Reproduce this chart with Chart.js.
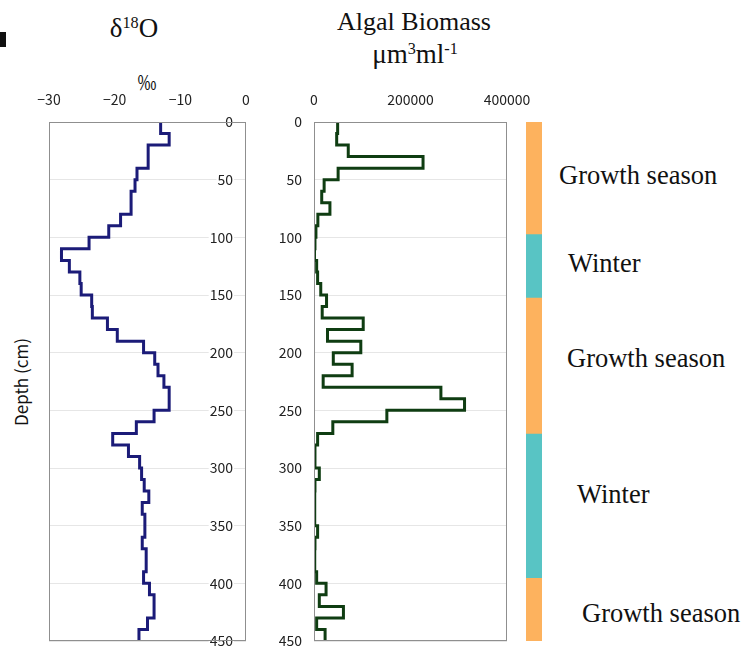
<!DOCTYPE html>
<html lang="en">
<head>
<meta charset="UTF-8">
<title>Depth profiles - δ18O and Algal Biomass</title>
<script src="https://cdn.jsdelivr.net/npm/chart.js"></script>
<style>
  body { margin: 0; background: #fff; }
  #page { position: relative; width: 743px; height: 648px; overflow: hidden; font-family: 'Liberation Serif', serif; color: #111; }
  .panel { position: absolute; top: 0; }
  .lbl { position: absolute; white-space: nowrap; transform: translate(-50%, -50%); line-height: 1; }
  .season { position: absolute; white-space: nowrap; transform: translateY(-50%); font-size: 26.5px; line-height: 1; }
  sup { font-size: 0.6em; vertical-align: 0.55em; line-height: 0; }
  .jp { font-family: 'Noto Sans CJK JP', sans-serif; }
  #mark { position: absolute; left: 0; top: 32px; width: 6px; height: 15px; background: #111; }
</style>
</head>
<body>
<div id="page">
  <div id="mark"></div>
  <div class="lbl" style="left:134px; top:28px; font-size:27px;">δ<sup>18</sup>O</div>
  <div class="lbl jp" style="left:147px; top:81px; font-size:19px;">‰</div>
  <div class="lbl" style="left:414px; top:22px; font-size:26px;">Algal Biomass</div>
  <div class="lbl" style="left:415px; top:54px; font-size:27px;">μm<sup>3</sup>ml<sup>-1</sup></div>
  <div class="lbl jp" style="left:20px; top:382px; font-size:17px; transform: translate(-50%, -50%) rotate(-90deg);">Depth (cm)</div>

  <div class="panel" style="left:0;"><canvas id="isoChart" width="270" height="648"></canvas></div>
  <div class="panel" style="left:260px;"><canvas id="algaeChart" width="290" height="648"></canvas></div>
  <div class="panel" style="left:520px;"><canvas id="seasonChart" width="30" height="648"></canvas></div>

  <div class="season" style="left:559px; top:175px;">Growth season</div>
  <div class="season" style="left:568px; top:263px;">Winter</div>
  <div class="season" style="left:567px; top:358px;">Growth season</div>
  <div class="season" style="left:577px; top:494px;">Winter</div>
  <div class="season" style="left:582px; top:613px;">Growth season</div>
</div>

<script>
  // top of each 10 cm sample (cm)
  const depths = [0, 10, 20, 30, 40, 50, 60, 70, 80, 90,
    100, 110, 120, 130, 140, 150, 160, 170, 180, 190,
    200, 210, 220, 230, 240, 250, 260, 270, 280, 290,
    300, 310, 320, 330, 340, 350, 360, 370, 380, 390,
    400, 410, 420, 430, 440];
  const depthMax = 450;

  // δ18O (‰)
  const d18O = [-13.0, -11.7, -14.9, -14.9, -16.6, -16.9, -17.5, -17.5, -19.1, -20.9,
    -23.9, -28.1, -26.9, -25.3, -25.1, -23.5, -23.4, -21.1, -19.6, -15.6,
    -13.9, -13.4, -12.5, -11.7, -11.7, -14.0, -16.7, -20.3, -17.9, -16.2,
    -15.9, -15.5, -14.8, -15.8, -15.4, -15.4, -15.8, -15.2, -15.2, -15.6,
    -14.7, -14.0, -14.0, -15.0, -16.3];

  // algal biomass (µm3 ml-1)
  const biomass = [49000, 47000, 71000, 226000, 50000, 21000, 16000, 33000, 8000, 4000,
    2000, 1000, 5500, 7500, 14000, 26000, 17000, 102000, 28000, 97000,
    40000, 79000, 19000, 263000, 312000, 151000, 39000, 7500, 2000, 2000,
    11000, 2000, 1500, 1500, 1500, 7500, 2000, 1500, 1500, 5500,
    25000, 11000, 61000, 5500, 23000];

  const isoTicks = [-30, -20, -10, 0];
  const algaeTicks = [0, 200000, 400000];
  const depthTicks = [0, 50, 100, 150, 200, 250, 300, 350, 400, 450];

  const seasonNames = ['Growth season', 'Winter', 'Growth season', 'Winter', 'Growth season'];
  const seasonTop = [0, 97, 152, 270, 395];
  const seasonBottom = [97, 152, 270, 395, 450];

  const ORANGE = '#fdb25e';
  const TEAL = '#58c4c4';
  const tickFont = { family: "'Noto Sans CJK JP', sans-serif", size: 14 };

  // stepped profile: value holds from a sample's top depth down to the next one
  function profile(values) {
    const pts = depths.map((d, i) => ({ x: values[i], y: d }));
    pts.push({ x: values[values.length - 1], y: depthMax });
    return pts;
  }

  const frame = {
    id: 'frame',
    afterDraw(chart) {
      const { ctx, chartArea: a } = chart;
      ctx.save();
      ctx.strokeStyle = '#8f8f8f';
      ctx.lineWidth = 1;
      ctx.strokeRect(Math.round(a.left) + 0.5, Math.round(a.top) + 0.5,
        Math.round(a.right - a.left) - 1, Math.round(a.bottom - a.top) - 1);
      ctx.restore();
    }
  };

  function profileChart(id, values, color, xr, yAxis, pad) {
    return new Chart(document.getElementById(id), {
      type: 'line',
      data: {
        datasets: [{
          data: profile(values),
          borderColor: color,
          borderWidth: 3,
          pointRadius: 0,
          stepped: 'after',
          fill: false
        }]
      },
      options: {
        responsive: false,
        animation: false,
        parsing: false,
        layout: { padding: pad },
        plugins: { legend: { display: false }, tooltip: { enabled: false } },
        scales: {
          x: {
            type: 'linear',
            position: 'top',
            min: xr.min, max: xr.max,
            afterBuildTicks: s => { s.ticks = xr.ticks.map(v => ({ value: v })); },
            afterFit: s => { s.height = 122; s.paddingLeft = 0; s.paddingRight = 0; },
            grid: { display: false, drawTicks: false },
            border: { display: false },
            ticks: {
              font: tickFont, color: '#222', padding: 14, maxRotation: 0,
              callback: v => String(v).replace('-', '−')
            }
          },
          y: Object.assign({
            type: 'linear',
            min: 0, max: depthMax,
            reverse: true,
            afterBuildTicks: s => { s.ticks = depthTicks.map(v => ({ value: v })); },
            grid: { color: '#e6e6e6', lineWidth: 1, drawTicks: false },
            border: { display: false }
          }, yAxis)
        }
      },
      plugins: [frame]
    });
  }

  profileChart('isoChart', d18O, '#1b1b78',
    { min: -30, max: 0, ticks: isoTicks },
    {
      position: 'right',
      afterFit: s => { s.width = 24; s.paddingTop = 0; s.paddingBottom = 0; },
      ticks: {
        font: tickFont, color: '#222', mirror: true, padding: -13,
        showLabelBackdrop: true, backdropColor: '#fff', backdropPadding: 1
      }
    },
    { left: 49, bottom: 7, top: 0, right: 0 });

  profileChart('algaeChart', biomass, '#0f3d12',
    { min: 0, max: 400000, ticks: algaeTicks },
    {
      position: 'left',
      afterFit: s => { s.width = 54; s.paddingTop = 0; s.paddingBottom = 0; },
      ticks: { font: tickFont, color: '#222', padding: 12 }
    },
    { left: 0, bottom: 7, top: 0, right: 43 });

  new Chart(document.getElementById('seasonChart'), {
    type: 'bar',
    data: {
      labels: [''],
      datasets: seasonNames.map((name, i) => ({
        label: name,
        data: [[seasonTop[i], seasonBottom[i]]],
        backgroundColor: name === 'Winter' ? TEAL : ORANGE,
        borderWidth: 0,
        grouped: false,
        barPercentage: 1,
        categoryPercentage: 1
      }))
    },
    options: {
      responsive: false,
      animation: false,
      layout: { padding: { left: 6, right: 8, top: 122, bottom: 7 } },
      plugins: { legend: { display: false }, tooltip: { enabled: false } },
      scales: {
        x: { display: false },
        y: { display: false, min: 0, max: depthMax, reverse: true }
      }
    }
  });
</script>
</body>
</html>
